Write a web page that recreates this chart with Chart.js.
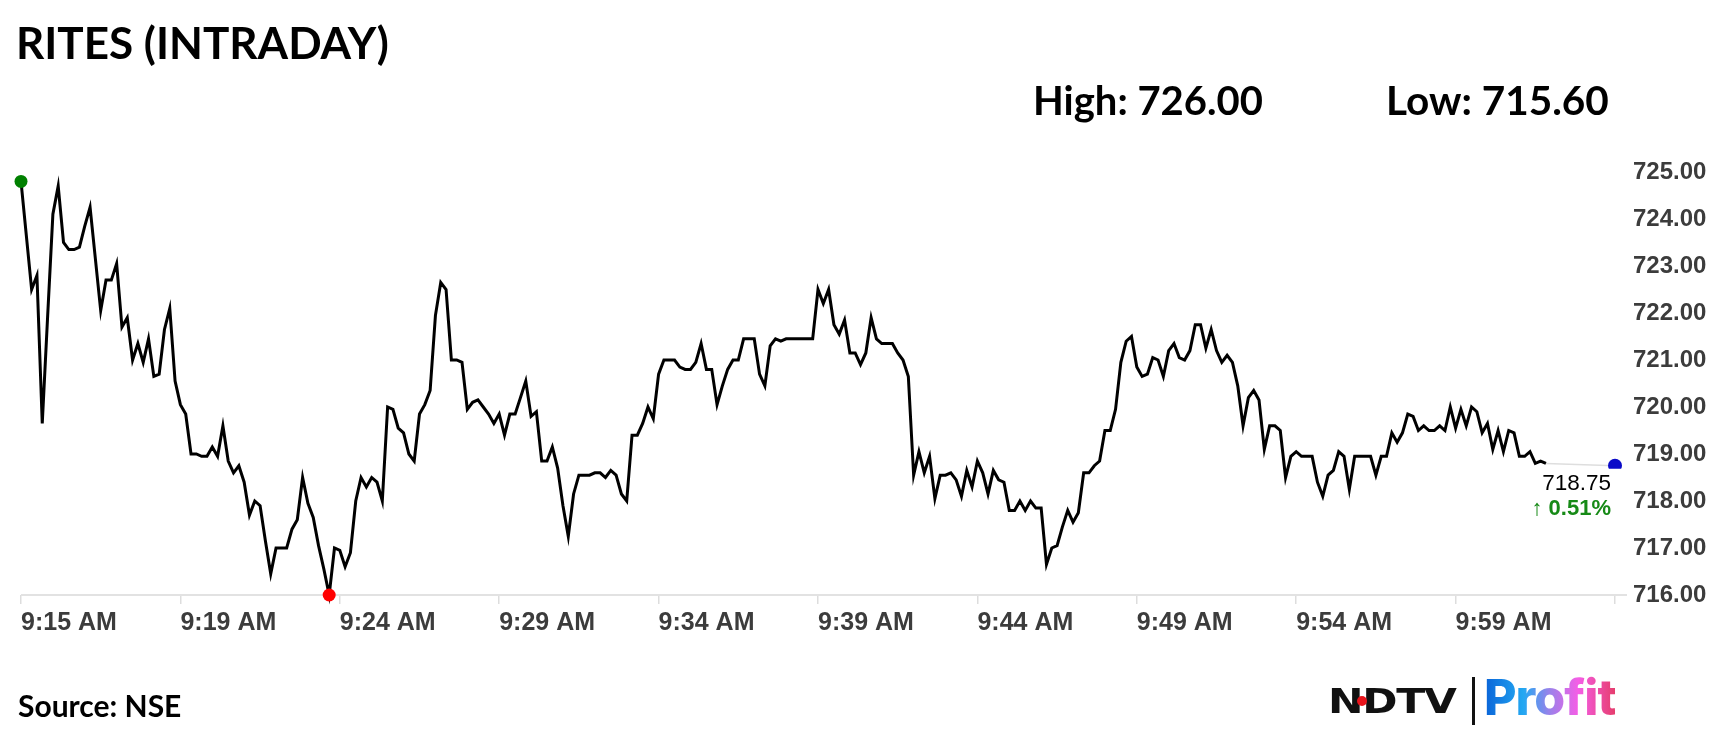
<!DOCTYPE html>
<html>
<head>
<meta charset="utf-8">
<script src="https://cdn.jsdelivr.net/npm/chart.js@4.4.1/dist/chart.umd.min.js"></script>
<style>
  html, body { margin: 0; padding: 0; background: #fff; }
  body { width: 1728px; height: 750px; position: relative; overflow: hidden; font-family: Lato, sans-serif; }
  #chart { position: absolute; left: 0; top: 0; }
  .txt { position: absolute; white-space: nowrap; line-height: 1; font-weight: 700; color: #000; }
  #title { left: 16px; top: 20px; font-size: 44px; }
  #high { left: 1033px; top: 80px; font-size: 40px; }
  #low { left: 1386px; top: 80px; font-size: 40.5px; }
  #source { left: 18px; top: 690px; font-size: 30px; }
  #ndtv { position: absolute; left: 1328px; top: 684px; font-family: 'DejaVu Sans', sans-serif; font-weight: 700;
          font-size: 34px; line-height: 1; letter-spacing: -1px; transform: scaleX(1.25); transform-origin: left top; color: #111; }
  #ndot { position: absolute; left: 1357px; top: 696px; width: 10px; height: 10px; border-radius: 50%; background: #e8141b; }
  #bar { position: absolute; left: 1472px; top: 677px; width: 3px; height: 48px; background: #111; }
  #profit { position: absolute; left: 1484px; top: 672px; font-family: Inter, sans-serif; font-weight: 800; font-size: 50px;
            line-height: 1; letter-spacing: -1px;
            background: linear-gradient(90deg, #0a63d8 0%, #23a8f2 30%, #9a82ea 50%, #f55ee6 72%, #e63d6e 100%);
            -webkit-background-clip: text; background-clip: text; color: transparent; }
</style>
</head>
<body>
<canvas id="chart" width="1728" height="750"></canvas>
<div class="txt" id="title">RITES (INTRADAY)</div>
<div class="txt" id="high">High: 726.00</div>
<div class="txt" id="low">Low: 715.60</div>
<div class="txt" id="source">Source: NSE</div>
<div id="ndtv">NDTV</div>
<div id="ndot"></div>
<div id="bar"></div>
<div id="profit">Profit</div>

<script>
// Tick labels every 30 slots along the session axis
const tickLabels = ['9:15 AM', '9:19 AM', '9:24 AM', '9:29 AM', '9:34 AM', '9:39 AM',
                    '9:44 AM', '9:49 AM', '9:54 AM', '9:59 AM', ''];
const tickEvery = 30;
const slotCount = 301;

// Intraday prices
const prices = [
  724.80, 723.65, 722.50, 722.80, 719.65, 721.90, 724.10, 724.70, 723.50, 723.35,
  723.35, 723.40, 723.85, 724.25, 723.15, 722.05, 722.70, 722.70, 723.05, 721.70,
  721.90, 721.00, 721.35, 720.95, 721.45, 720.65, 720.70, 721.65, 722.10, 720.55,
  720.05, 719.85, 719.00, 719.00, 718.95, 718.95, 719.15, 718.95, 719.60, 718.85,
  718.60, 718.75, 718.40, 717.70, 718.00, 717.90, 717.15, 716.45, 717.00, 717.00,
  717.00, 717.40, 717.60, 718.50, 717.95, 717.65, 717.05, 716.55, 716.00, 717.00,
  716.95, 716.60, 716.90, 718.00, 718.50, 718.30, 718.50, 718.40, 718.00, 720.00,
  719.95, 719.55, 719.45, 719.00, 718.85, 719.85, 720.05, 720.35, 721.95, 722.65,
  722.50, 721.00, 721.00, 720.95, 719.95, 720.10, 720.15, 720.00, 719.85, 719.65,
  719.85, 719.40, 719.85, 719.85, 720.20, 720.55, 719.80, 719.90, 718.85, 718.85,
  719.15, 718.70, 717.90, 717.25, 718.15, 718.55, 718.55, 718.55, 718.60, 718.60,
  718.50, 718.65, 718.55, 718.15, 718.00, 719.40, 719.40, 719.65, 720.00, 719.75,
  720.70, 721.00, 721.00, 721.00, 720.85, 720.80, 720.80, 720.95, 721.35, 720.80,
  720.80, 720.05, 720.45, 720.80, 721.00, 721.00, 721.45, 721.45, 721.45, 720.70,
  720.45, 721.30, 721.45, 721.40, 721.45, 721.45, 721.45, 721.45, 721.45, 721.45,
  722.50, 722.20, 722.50, 721.75, 721.55, 721.85, 721.15, 721.15, 720.90, 721.15,
  721.90, 721.45, 721.35, 721.35, 721.35, 721.15, 721.00, 720.65, 718.55, 719.05,
  718.60, 718.95, 718.05, 718.55, 718.55, 718.60, 718.45, 718.10, 718.65, 718.30,
  718.85, 718.60, 718.15, 718.65, 718.45, 718.40, 717.80, 717.80, 718.00, 717.80,
  718.00, 717.85, 717.85, 716.65, 717.00, 717.05, 717.45, 717.80, 717.55, 717.75,
  718.60, 718.60, 718.75, 718.85, 719.50, 719.50, 719.95, 720.95, 721.40, 721.50,
  720.85, 720.65, 720.70, 721.05, 721.00, 720.65, 721.20, 721.35, 721.05, 721.00,
  721.20, 721.75, 721.75, 721.25, 721.65, 721.20, 720.95, 721.10, 720.95, 720.45,
  719.60, 720.20, 720.35, 720.15, 719.10, 719.60, 719.60, 719.50, 718.50, 718.95,
  719.05, 718.95, 718.95, 718.95, 718.40, 718.10, 718.55, 718.65, 719.05, 718.95,
  718.25, 718.95, 718.95, 718.95, 718.95, 718.55, 718.95, 718.95, 719.45, 719.25,
  719.45, 719.85, 719.80, 719.50, 719.60, 719.50, 719.50, 719.60, 719.50, 720.00,
  719.55, 719.95, 719.60, 720.00, 719.90, 719.45, 719.65, 719.10, 719.50, 719.05,
  719.50, 719.45, 718.95, 718.95, 719.05, 718.80, 718.85, 718.80
];

const lastPrice = 718.75;
const changePct = 0.51;
const yTicks = [716, 717, 718, 719, 720, 721, 722, 723, 724, 725];

const lowIndex = prices.indexOf(Math.min(...prices));

// connector from the last trade to the closing marker at the right edge
const lastSeries = new Array(slotCount).fill(null);
lastSeries[prices.length - 1] = prices[prices.length - 1];
lastSeries[slotCount - 1] = lastPrice;

const lastLabelPlugin = {
    id: 'lastLabel',
    afterDatasetsDraw(chart) {
        const pt = chart.getDatasetMeta(1).data[slotCount - 1];
        if (!pt) return;
        const ctx = chart.ctx;
        ctx.save();
        ctx.fillStyle = '#ffffff';
        ctx.fillRect(pt.x - 92, pt.y + 3, 104, 54);
        ctx.textAlign = 'right';
        ctx.textBaseline = 'middle';
        ctx.font = '22.5px "Liberation Sans", Arial, sans-serif';
        ctx.fillStyle = '#000';
        ctx.fillText(lastPrice.toFixed(2), pt.x - 4, pt.y + 18);
        ctx.font = 'bold 22px "Liberation Sans", Arial, sans-serif';
        ctx.fillStyle = '#168a16';
        ctx.fillText('\u2191 ' + changePct.toFixed(2) + '%', pt.x - 4, pt.y + 43);
        ctx.restore();
    }
};

const tickFont = { family: "'Liberation Sans', Arial, sans-serif", weight: 'bold' };

new Chart(document.getElementById('chart'), {
    type: 'line',
    data: {
        labels: Array.from({ length: slotCount }, (_, i) => i),
        datasets: [
            {
                data: prices,
                borderColor: '#000',
                borderWidth: 3,
                tension: 0,
                pointRadius: ctx => (ctx.dataIndex === 0 || ctx.dataIndex === lowIndex) ? 6.5 : 0,
                pointBackgroundColor: ctx => ctx.dataIndex === 0 ? '#008000' : '#ff0000',
                pointBorderWidth: 0,
                clip: false
            },
            {
                data: lastSeries,
                borderColor: '#dedede',
                borderWidth: 1.5,
                spanGaps: true,
                pointRadius: ctx => ctx.dataIndex === slotCount - 1 ? 7 : 0,
                pointBackgroundColor: '#0a0ac8',
                pointBorderWidth: 0,
                clip: false
            }
        ]
    },
    options: {
        responsive: false,
        animation: false,
        layout: { padding: { left: 21, top: 172, right: 0, bottom: 0 } },
        plugins: { legend: { display: false }, tooltip: { enabled: false } },
        scales: {
            x: {
                type: 'category',
                offset: false,
                border: { display: false },
                grid: { drawOnChartArea: false, drawTicks: true, tickLength: 9, color: '#dddddd', lineWidth: 1.5 },
                ticks: {
                    autoSkip: false,
                    maxRotation: 0,
                    align: 'start',
                    padding: 4,
                    color: '#3c3c3c',
                    font: { ...tickFont, size: 25 },
                    callback: (v, i) => i % tickEvery === 0 ? tickLabels[i / tickEvery] : null
                },
                afterFit: s => { s.height = 155; }
            },
            y: {
                position: 'right',
                min: yTicks[0],
                max: yTicks[yTicks.length - 1],
                border: { display: false },
                grid: {
                    drawTicks: true,
                    tickLength: 12,
                    lineWidth: 2,
                    color: ctx => (ctx.tick && ctx.tick.value === yTicks[0]) ? '#e2e2e2' : 'rgba(0,0,0,0)'
                },
                afterBuildTicks: s => { s.ticks = yTicks.map(v => ({ value: v })); },
                ticks: {
                    padding: 6,
                    color: '#3c3c3c',
                    font: { ...tickFont, size: 24 },
                    callback: v => v.toFixed(2)
                },
                afterFit: s => { s.width = 113; }
            }
        }
    },
    plugins: [lastLabelPlugin]
});
</script>
</body>
</html>
